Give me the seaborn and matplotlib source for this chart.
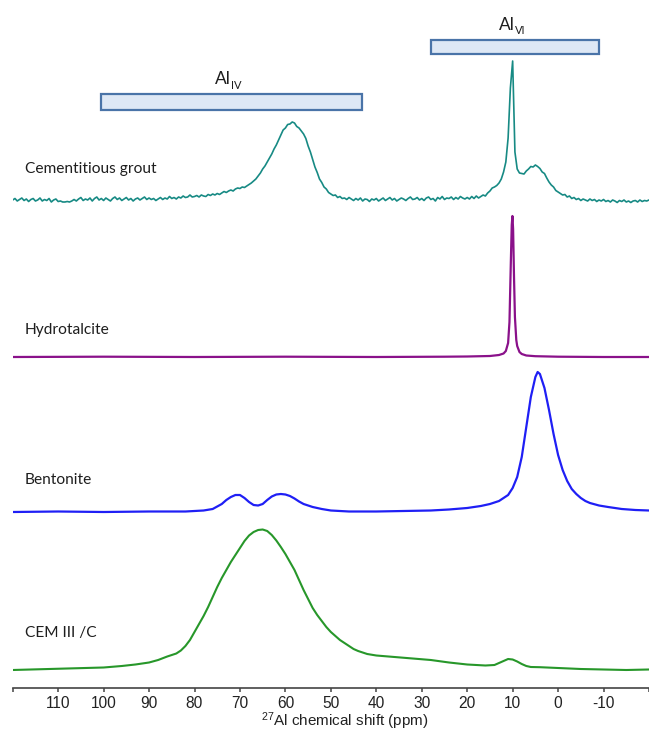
import numpy as np
import pandas as pd
import matplotlib
matplotlib.use("Agg")
import matplotlib.pyplot as plt
from matplotlib.patches import Rectangle
import seaborn as sns

# ---------------------------------------------------------------------------
# 27Al MAS NMR spectra (intensity in arbitrary units above each baseline)
# ---------------------------------------------------------------------------

# Cementitious grout: recorded on a regular 0.5 ppm grid from 120 to -20 ppm
GROUT_PPM = np.round(np.arange(120.0, -20.25, -0.5), 2)
GROUT_INT = [
    # 120 -> 110.5
    0, 1.5, -1, 0.5, 2, -0.5, 1, -1.5, 0.5, 1.5, -1, 0, 2, -1, 0.5, -0.5, 1.5, -2, 0, 1,
    # 110 -> 100.5
    -1.5, -1, -2, -2, -1.5, -2, -1, 0.5, -1, 1, 2.5, -0.5, 1, 0, 2, -1, 1.5, 3, 0, 1.5,
    # 100 -> 90.5
    -0.5, 2, 0.5, -1, 1.5, 3, 0.5, 2, -0.5, 1, 2.5, 0, 1.5, -1, 1, 2, 0, 1.5, 3, 0.5,
    # 90 -> 80.5
    2, 0.5, 1.5, -0.5, 1, 2.5, 0.5, 2, 1, 3.5, 1.5, 2.5, 1, 3, 2, 4, 2.5, 3, 5, 3,
    # 80 -> 70.5
    3.5, 4.5, 3, 5, 4, 3.5, 5.5, 4.5, 6, 5, 6.5, 5.5, 7, 8.5, 7.5, 9, 10, 9, 11, 12,
    # 70 -> 60.5
    11.5, 13, 12.5, 14, 15.5, 17, 19, 21, 24, 27, 31, 34, 38, 42, 46, 51, 55, 60, 65, 70,
    # 60 -> 50.5
    72, 75.5, 76, 78, 77, 73.5, 72, 69, 66, 61.5, 54, 48, 40.5, 33, 27.5, 21, 17.5, 13, 11, 7.5,
    # 50 -> 40.5
    6, 4.5, 5, 2.5, 3.5, 1.5, 2, 0.5, 2.5, 1, -0.5, 1.5, 0, 2, -1, 1, 0.5, -1.5, 1, 0,
    # 40 -> 30.5
    1.5, -1, 0.5, 2, -0.5, 1, 2.5, 0, 1.5, -1, 0.5, 2, 1, -0.5, 1.5, 3, 0.5, 1, 2.5, 0,
    # 30 -> 20.5
    1.5, -0.5, 2, 3, 0.5, 1.5, -1, 2.5, 1, 3.5, 0.5, 2, 1.5, 3, 0.5, 2.5, 1, 3.5, 2, 1,
    # 20 -> 10.5
    2.5, 1, 3.5, 1.5, 4, 2, 3.5, 5, 4, 7, 9, 12, 13, 14.5, 17, 21, 28, 38, 62, 112,
    # 10 -> 0.5
    139, 48, 31, 27, 26.5, 26, 29, 31, 33.5, 33, 35, 33.5, 31.5, 28, 26.5, 22, 18, 15, 13, 9.5,
    # 0 -> -9.5
    8, 6.5, 5, 5.5, 3, 4, 1.5, 2.5, 0.5, 1.5, -0.5, 1, 0, -1, 1, -0.5, 0.5, -1.5, 0, -1,
    # -10 -> -20
    0.5, -1.5, -0.5, -2, 0, -1, -2.5, -0.5, -1.5, 0, -2, -1, -2.5, -1, -0.5, -2, 0, -1.5, -0.5, -1, 0,
]

# Hydrotalcite: single narrow octahedral resonance
HYDRO_PPM = [120, 100, 80, 60, 40, 25, 20, 15, 13, 12, 11.5, 11, 10.7, 10.4, 10.2,
             10.05, 9.9, 9.7, 9.5, 9.2, 9.0, 8.5, 8, 7, 5, 0, -10, -20]
HYDRO_INT = [0, 0.3, 0, 0.3, 0, 0.3, 0.5, 1, 2, 3.5, 6, 14, 35, 95, 132,
             141, 128, 80, 40, 17, 11, 5, 3, 1.5, 0.8, 0.3, 0, 0]

# Bentonite
BENT_PPM = [120, 110, 100, 90, 82, 78, 76, 74, 73, 72, 71, 70, 69, 68, 67, 66, 65, 64,
            63, 62, 61, 60, 59, 58, 57, 56, 54, 52, 50, 46, 40, 34, 28, 24, 20, 17,
            15, 13, 11, 10, 9, 8, 7, 6, 5, 4.5, 4, 3, 2, 1, 0, -1, -2, -3, -4, -5,
            -6, -7, -9, -11, -14, -17, -20]
BENT_INT = [0, 0.5, 0, 0.5, 0.5, 1.5, 3, 8, 12, 15, 17, 17, 14, 10, 7, 6.5, 8, 12,
            15.5, 17.5, 18, 17.5, 16, 13.5, 10.5, 8, 5, 3, 1.5, 0.5, 0.5, 1, 1.5, 2.5, 4, 6,
            8, 11, 17, 24, 35, 55, 85, 115, 135, 140, 138, 124, 102, 78, 57, 42, 31, 23, 18, 14,
            11, 9, 6.5, 5, 3, 2, 1.5]

# CEM III/C
CEM_PPM = [120, 116, 112, 108, 104, 100, 96, 93, 90, 88, 86, 84, 83, 82, 81, 80, 79, 78,
           77, 76, 75, 74, 73, 72, 71, 70, 69, 68, 67, 66, 65, 64, 63, 62, 61, 60, 59,
           58, 57, 56, 55, 54, 53, 52, 51, 50, 49, 48, 47, 46, 45, 44, 43, 42, 40, 36,
           32, 28, 24, 20, 16, 14, 12, 11, 10, 9, 8, 7, 6, 4, 0, -5, -10, -15, -20]
CEM_INT = [0, 0.5, 1, 1.5, 2, 2.5, 4, 5.5, 7.5, 10, 13.5, 16.5, 19.5, 24, 30, 38, 46, 54,
           63, 73, 83, 92, 100, 108, 115, 122, 129, 134.5, 138, 140, 140.5, 139, 135, 129.5, 123, 116, 108,
           100, 90, 80, 71, 62, 55, 49, 43, 38, 34, 30, 27, 24, 21, 19, 17.5, 16, 14.5, 13,
           11.5, 10, 7.5, 5.5, 4.5, 5, 9, 11, 10.5, 8.5, 6, 4, 3, 2.8, 2, 1, 0.5, 0, 0.5]

SAMPLES = ["Cementitious grout", "Hydrotalcite", "Bentonite", "CEM III /C"]
SPECTRA = {
    "Cementitious grout": (GROUT_PPM, GROUT_INT),
    "Hydrotalcite": (HYDRO_PPM, HYDRO_INT),
    "Bentonite": (BENT_PPM, BENT_INT),
    "CEM III /C": (CEM_PPM, CEM_INT),
}

# Vertical stacking offsets and styling
OFFSETS = {"Cementitious grout": 488, "Hydrotalcite": 331, "Bentonite": 176, "CEM III /C": 18}
COLORS = {"Cementitious grout": "#178a84", "Hydrotalcite": "#8a118a",
          "Bentonite": "#1f1ff5", "CEM III /C": "#27972a"}
WIDTHS = {"Cementitious grout": 1.2, "Hydrotalcite": 1.6, "Bentonite": 1.6, "CEM III /C": 1.5}
LABEL_Y = {"Cementitious grout": 519, "Hydrotalcite": 358, "Bentonite": 208, "CEM III /C": 55}

# Coordination ranges marked above the spectra (ppm)
AL_IV_RANGE = (100.6, 43.2)
AL_VI_RANGE = (28.0, -9.0)

XTICKS = list(range(120, -21, -10))
XTICK_LABELS = ["" if t in (120, -20) else str(t) for t in XTICKS]

# ---------------------------------------------------------------------------
sns.set_style("white")
plt.rcParams["font.family"] = ["Liberation Sans", "DejaVu Sans"]
plt.rcParams["mathtext.fontset"] = "custom"
plt.rcParams["mathtext.rm"] = "Liberation Sans"
plt.rcParams["mathtext.default"] = "regular"

W, H = 649, 731
fig = plt.figure(figsize=(W / 100, H / 100), dpi=100)
ax = fig.add_axes([12.7 / W, 43 / H, 1 - 12.7 / W, 688 / H])

frames = []
for name in SAMPLES:
    ppm, inten = SPECTRA[name]
    frames.append(pd.DataFrame({"ppm": np.asarray(ppm, float),
                                "intensity": np.asarray(inten, float) + OFFSETS[name],
                                "sample": name}))
df = pd.concat(frames, ignore_index=True)

for name in SAMPLES:
    sns.lineplot(data=df[df["sample"] == name], x="ppm", y="intensity",
                 color=COLORS[name], linewidth=WIDTHS[name], sort=False,
                 estimator=None, ax=ax, legend=False)

label_font = ["Lato", "DejaVu Sans"]
for name in SAMPLES:
    ax.text(117.3, LABEL_Y[name], name, ha="left", va="center", fontsize=11.2,
            family=label_font, color="#1e1e1e")

# Coordination bars with labels
def coord_bar(rng, y0, height, sub):
    lo, hi = rng
    ax.add_patch(Rectangle((hi, y0), lo - hi, height, facecolor="#dee8f5",
                           edgecolor="#4a74a8", linewidth=1.6, zorder=3))
    xc = (lo + hi) / 2
    ax.annotate("Al", xy=(xc, y0 + height), xytext=(0, 5), textcoords="offset points",
                ha="right", va="bottom", fontsize=12.5, family=label_font, color="#1e1e1e")
    ax.annotate(sub, xy=(xc, y0 + height), xytext=(0, 2.5), textcoords="offset points",
                ha="left", va="bottom", fontsize=8, family=label_font, color="#1e1e1e")

coord_bar(AL_IV_RANGE, 578, 16, "IV")
coord_bar(AL_VI_RANGE, 634, 14.5, "VI")

# Axes styling: only the bottom axis is shown
ax.set_xlim(120, -20)
ax.set_ylim(0, 688)
for side in ("left", "top", "right"):
    ax.spines[side].set_visible(False)
ax.spines["bottom"].set_color("#444444")
ax.spines["bottom"].set_linewidth(1.2)
ax.set_yticks([])
ax.set_ylabel("")
ax.set_xticks(XTICKS)
ax.set_xticklabels(XTICK_LABELS)
ax.tick_params(axis="x", direction="out", length=3, width=1.1, color="#444444",
               labelsize=11.2, labelcolor="#222222", pad=2.5, bottom=True)
ax.set_xlabel(r"$^{27}$Al chemical shift (ppm)", fontsize=11, color="#222222")
ax.xaxis.set_label_coords((345 - 12.7) / (W - 12.7), -(726 - 688) / 688)
ax.xaxis.label.set_va("baseline")

fig.savefig("out.png", dpi=100)
